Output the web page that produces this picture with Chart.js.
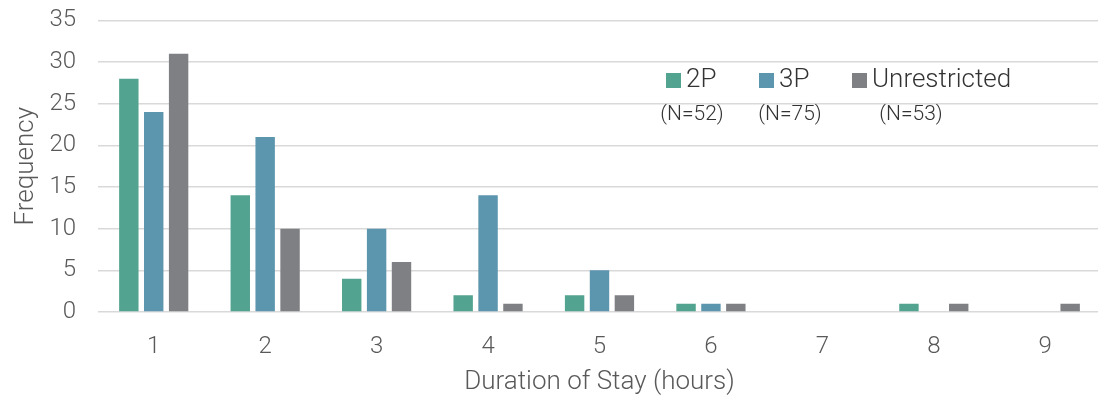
<!DOCTYPE html>
<html>
<head>
<meta charset="utf-8">
<script src="https://cdn.jsdelivr.net/npm/chart.js@4/dist/chart.umd.min.js"></script>
<style>
  html, body { margin: 0; padding: 0; background: #fff; overflow: hidden; }
  #wrap { width: 1101px; height: 398px; overflow: hidden; }
  #c { display: block; margin-top: -16px; }
</style>
</head>
<body>
<div id="wrap"><canvas id="c" width="1101" height="414"></canvas></div>
<script>
// Frequency of parking durations by restriction type
const durations = ['1', '2', '3', '4', '5', '6', '7', '8', '9'];
const twoP = [28, 14, 4, 2, 2, 1, 0, 1, 0];
const threeP = [24, 21, 10, 14, 5, 1, 0, 0, 0];
const unrestricted = [31, 10, 6, 1, 2, 1, 0, 1, 1];
const seriesNames = ['2P', '3P', 'Unrestricted'];
const seriesColors = ['#52a38f', '#5b95ae', '#7f8084'];
const yTicks = { min: 0, max: 35, step: 5 };

const FONT = "'Roboto', 'Liberation Sans', sans-serif";

// Legend with sample sizes drawn inside the plot area (canvas is offset 16px upward)
const legendPlugin = {
  id: 'sampleLegend',
  afterDraw(chart) {
    const ctx = chart.ctx;
    const boxX = [666, 759, 852];
    const nX = [692, 790, 911];
    const dy = 16;
    ctx.save();
    chart.data.datasets.forEach((ds, i) => {
      ctx.fillStyle = ds.backgroundColor;
      ctx.fillRect(boxX[i], 73 + dy, 15, 15);
      ctx.fillStyle = '#333333';
      ctx.font = '300 26px ' + FONT;
      ctx.textAlign = 'left';
      ctx.textBaseline = 'middle';
      ctx.fillText(ds.label, boxX[i] + 20, 80 + dy);
      const n = ds.data.reduce((a, b) => a + b, 0);
      ctx.font = '300 21px ' + FONT;
      ctx.textAlign = 'center';
      ctx.fillText('(N=' + n + ')', nX[i], 115 + dy);
    });
    ctx.restore();
  }
};

new Chart(document.getElementById('c'), {
  type: 'bar',
  data: {
    labels: durations,
    datasets: [
      { label: seriesNames[0], data: twoP, backgroundColor: seriesColors[0] },
      { label: seriesNames[1], data: threeP, backgroundColor: seriesColors[1] },
      { label: seriesNames[2], data: unrestricted, backgroundColor: seriesColors[2] }
    ]
  },
  options: {
    responsive: false,
    animation: false,
    devicePixelRatio: 1,
    layout: { padding: { top: 2, left: 0, right: 0, bottom: 0 } },
    datasets: { bar: { barPercentage: 0.78, categoryPercentage: 0.67 } },
    plugins: { legend: { display: false }, tooltip: { enabled: false } },
    scales: {
      x: {
        grid: { display: false, drawTicks: false },
        border: { display: false },
        ticks: { color: '#595959', font: { family: FONT, size: 24, weight: 300 }, padding: 21 },
        title: { display: true, text: 'Duration of Stay (hours)', color: '#595959',
                 font: { family: FONT, size: 26, weight: 300 }, padding: { top: 0, bottom: 0 } },
        afterFit(scale) { scale.height = 86; }
      },
      y: {
        min: yTicks.min, max: yTicks.max,
        ticks: { stepSize: yTicks.step, color: '#595959', font: { family: FONT, size: 24, weight: 300 }, padding: 22 },
        grid: { color: '#d9d9d9', lineWidth: 1.5, drawTicks: false },
        border: { display: false },
        title: { display: true, text: 'Frequency', color: '#595959',
                 font: { family: FONT, size: 26, weight: 300 }, padding: { top: 11, bottom: 0 } },
        afterFit(scale) { scale.width = 98; }
      }
    }
  },
  plugins: [legendPlugin]
});
</script>
</body>
</html>
